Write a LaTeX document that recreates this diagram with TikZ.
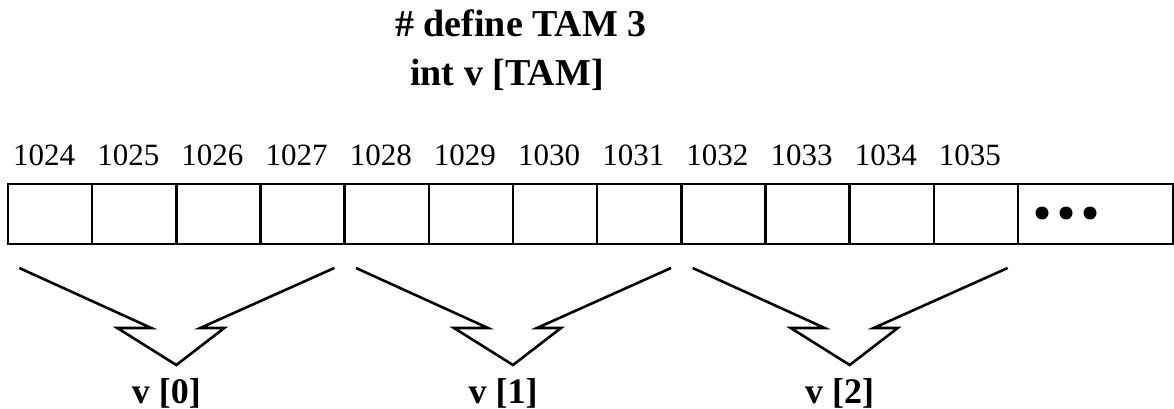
\documentclass[tikz,border=0pt]{standalone}
\usepackage{fontspec}
\setmainfont{Liberation Serif}
\begin{document}
\begin{tikzpicture}[x=1pt,y=-1pt]
	\tikzstyle{cell}=[draw=black, line width=2.6pt, minimum width=84.17pt, minimum height=60pt, inner sep=0pt, outer sep=0pt, anchor=north west]
	\tikzstyle{addr}=[anchor=base, inner sep=0pt, font=\fontsize{31}{37}\selectfont]
	\tikzstyle{title}=[anchor=base west, inner sep=0pt, font=\fontsize{38}{45}\selectfont\bfseries]
	\tikzstyle{elem}=[anchor=base, inner sep=0pt, font=\fontsize{36}{43}\selectfont\bfseries]
	\tikzstyle{brace}=[draw=black, line width=2.6pt, line join=miter]

	\useasboundingbox (0,0) rectangle (1174,409);

	\node [title] (def) at (395,37) {\# define TAM 3};
	\node [title] (decl) at (410,86) {int v [TAM]};

	% memory cells and their addresses
	\foreach \i in {0,...,11}
		\node [cell] (c\i) at (8+84.17*\i,184) {};
	\node [cell, minimum width=155pt] (more) at (c11.north east) {};
	\foreach \a [count=\i from 0] in {1024,...,1035}
		\node [addr, xshift=-6pt, yshift=19pt] (a\i) at (c\i.north) {\a};

	\fill (1042,213) circle (6.5pt);
	\fill (1066,213) circle (6.5pt);
	\fill (1090,213) circle (6.5pt);

	% one brace per int
	\foreach \g in {0,1,2} {
		\coordinate (tip\g) at (176.3+336.7*\g,365);
		\draw [brace] (tip\g) ++(-157,-97) -- ++(132,60) -- ++(-34,0) -- ++(59,37)
			-- ++(48,-37) -- ++(-24,0) -- ++(134,-60);
		\node [elem, xshift=-10pt, yshift=-38pt] (v\g) at (tip\g) {v [\g]};
	}
\end{tikzpicture}
\end{document}
